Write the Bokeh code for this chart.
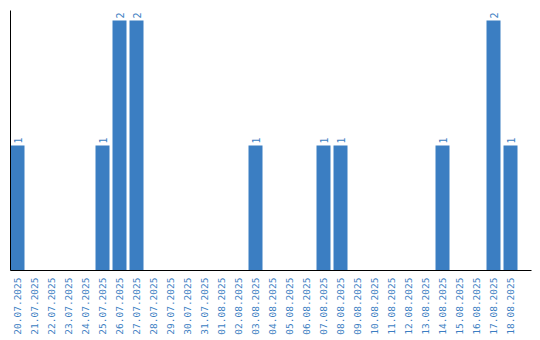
import math
from bokeh.plotting import figure
from bokeh.models import ColumnDataSource, Range1d, FixedTicker
from bokeh.core.properties import value
from bokeh.embed import file_html
from bokeh.resources import INLINE

dates = ["20.07.2025", "21.07.2025", "22.07.2025", "23.07.2025", "24.07.2025",
         "25.07.2025", "26.07.2025", "27.07.2025", "28.07.2025", "29.07.2025",
         "30.07.2025", "31.07.2025", "01.08.2025", "02.08.2025", "03.08.2025",
         "04.08.2025", "05.08.2025", "06.08.2025", "07.08.2025", "08.08.2025",
         "09.08.2025", "10.08.2025", "11.08.2025", "12.08.2025", "13.08.2025",
         "14.08.2025", "15.08.2025", "16.08.2025", "17.08.2025", "18.08.2025"]
counts = [1, 0, 0, 0, 0, 1, 2, 2, 0, 0,
          0, 0, 0, 0, 1, 0, 0, 0, 1, 1,
          0, 0, 0, 0, 0, 1, 0, 0, 2, 1]

BLUE = "#3b7ec2"
FONT = "DejaVu Sans Mono"

idx = list(range(len(dates)))
src = ColumnDataSource(dict(x=idx, top=counts))
lab_x = [i for i, c in zip(idx, counts) if c > 0]
lab_y = [c for c in counts if c > 0]
lab_src = ColumnDataSource(dict(x=lab_x, y=lab_y, t=[str(c) for c in lab_y]))

p = figure(width=540, height=340, output_backend="svg", toolbar_location=None,
           x_range=Range1d(-0.412, 30.235), y_range=Range1d(0, 2.08),
           min_border_left=10, min_border_right=9, min_border_top=10,
           min_border_bottom=70)
p.outline_line_color = None
p.xgrid.visible = False
p.ygrid.visible = False
p.background_fill_color = "white"
p.border_fill_color = "white"

p.vbar(x="x", top="top", bottom=0, width=14/17, source=src,
       fill_color=BLUE, line_color=None)

p.text(x="x", y="y", text="t", source=lab_src, angle=math.pi/2,
       text_align="left", text_baseline="middle", y_offset=-2,
       text_color=BLUE, text_font=value(FONT), text_font_size="10px")

xa = p.xaxis[0]
xa.ticker = FixedTicker(ticks=idx)
xa.major_label_overrides = {i: d for i, d in zip(idx, dates)}
xa.major_label_orientation = math.pi/2
xa.major_tick_line_color = None
xa.minor_tick_line_color = None
xa.major_tick_out = 0
xa.major_tick_in = 0
xa.major_label_standoff = 7
xa.major_label_text_color = BLUE
xa.major_label_text_font = FONT
xa.major_label_text_font_size = "9.5px"
xa.axis_line_color = "black"

ya = p.yaxis[0]
ya.ticker = FixedTicker(ticks=[])
ya.major_tick_line_color = None
ya.minor_tick_line_color = None
ya.major_tick_out = 0
ya.major_tick_in = 0
ya.minor_tick_out = 0
ya.major_label_standoff = 0
ya.axis_line_color = "black"

open("out.html", "w").write(file_html(p, INLINE))
